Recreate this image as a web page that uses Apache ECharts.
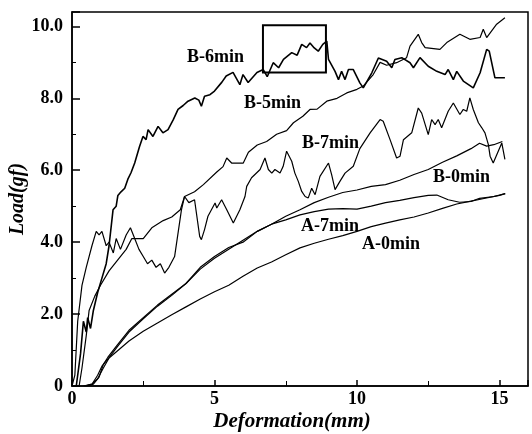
<!DOCTYPE html>
<html>
<head>
<meta charset="utf-8">
<script src="https://cdn.jsdelivr.net/npm/echarts@6/dist/echarts.min.js"></script>
<style>
html,body{margin:0;padding:0;background:#fff;}
#chart{width:532px;height:434px;}
</style>
</head>
<body>
<div id="chart"></div>
<script>
// ---- data (x: Deformation mm, y: Load gf) ----
var xTicks = [0, 5, 10, 15];
var yTicks = [0, 2, 4, 6, 8, 10];

var b6min = [[0.15,0],[0.3,0.9],[0.4,1.8],[0.5,1.5],[0.55,1.9],[0.65,1.6],[0.75,2.1],[0.9,2.6],[1.05,3.0],[1.2,3.4],[1.3,3.9],[1.44,4.9],[1.55,5.0],[1.61,5.3],[1.72,5.4],[1.85,5.5],[1.96,5.75],[2.07,5.93],[2.2,6.2],[2.37,6.66],[2.49,6.94],[2.6,6.85],[2.67,7.13],[2.84,6.94],[3.02,7.22],[3.19,7.04],[3.37,7.13],[3.55,7.4],[3.72,7.69],[3.9,7.8],[4.07,7.92],[4.31,8.01],[4.45,7.95],[4.54,7.78],[4.65,8.06],[4.84,8.1],[5.0,8.2],[5.26,8.45],[5.41,8.62],[5.65,8.72],[5.89,8.38],[6.0,8.66],[6.18,8.44],[6.49,8.72],[6.71,8.8],[6.85,8.6],[7.06,8.99],[7.25,8.85],[7.42,9.08],[7.71,9.27],[7.9,9.2],[8.06,9.5],[8.23,9.41],[8.35,9.54],[8.5,9.4],[8.64,9.31],[8.8,9.5],[8.94,9.59],[9.0,9.08],[9.23,8.75],[9.35,8.52],[9.46,8.75],[9.58,8.52],[9.7,8.8],[9.87,8.8],[10.1,8.43],[10.22,8.29],[10.52,8.71],[10.75,9.12],[11.04,9.03],[11.22,8.85],[11.33,9.08],[11.57,9.13],[11.86,8.99],[11.98,8.85],[12.21,9.13],[12.5,8.89],[12.8,8.75],[13.09,8.66],[13.2,8.8],[13.38,8.52],[13.5,8.75],[13.73,8.48],[14.08,8.29],[14.32,8.71],[14.55,9.36],[14.64,9.31],[14.84,8.57],[15.19,8.57]];

var b5min = [[0.25,0],[0.35,0.5],[0.5,1.4],[0.6,2.1],[0.8,2.5],[1.0,2.8],[1.3,3.2],[1.6,3.5],[1.9,3.8],[2.1,4.1],[2.5,4.1],[2.8,4.4],[3.2,4.6],[3.5,4.7],[3.8,4.9],[3.95,5.27],[4.3,5.4],[4.61,5.6],[5.08,5.95],[5.3,6.1],[5.43,6.34],[5.6,6.2],[6.01,6.2],[6.19,6.5],[6.5,6.7],[6.83,6.8],[7.18,7.0],[7.53,7.1],[7.77,7.32],[8.1,7.5],[8.35,7.69],[8.6,7.7],[8.94,7.92],[9.3,8.0],[9.64,8.15],[10.0,8.25],[10.22,8.34],[10.57,8.66],[10.81,9.0],[11.04,8.92],[11.39,8.99],[11.74,9.13],[11.86,9.45],[12.15,9.78],[12.27,9.55],[12.39,9.41],[12.91,9.36],[13.15,9.55],[13.61,9.78],[13.96,9.64],[14.32,9.69],[14.43,9.92],[14.55,9.69],[14.9,10.06],[15.19,10.24]];

var b7min = [[0.0,0],[0.1,0.3],[0.2,1.8],[0.35,2.8],[0.5,3.3],[0.7,3.9],[0.85,4.3],[0.95,4.2],[1.05,4.3],[1.2,3.9],[1.3,4.0],[1.45,3.7],[1.55,4.1],[1.7,3.8],[1.9,4.2],[2.05,4.4],[2.2,4.1],[2.35,3.8],[2.5,3.6],[2.65,3.4],[2.8,3.5],[2.95,3.3],[3.1,3.4],[3.25,3.14],[3.4,3.3],[3.6,3.6],[3.84,4.9],[3.95,5.27],[4.1,5.1],[4.3,5.18],[4.48,4.16],[4.54,4.07],[4.65,4.35],[4.77,4.72],[5.02,5.09],[5.08,4.95],[5.25,5.18],[5.43,4.9],[5.66,4.53],[5.89,4.9],[6.07,5.27],[6.13,5.55],[6.3,5.79],[6.6,6.02],[6.77,6.34],[6.89,6.02],[7.01,5.92],[7.12,6.02],[7.3,5.92],[7.41,6.11],[7.53,6.53],[7.71,6.25],[7.82,5.92],[7.94,5.69],[8.06,5.41],[8.18,5.27],[8.29,5.23],[8.41,5.5],[8.53,5.32],[8.7,5.83],[9.0,6.2],[9.11,5.88],[9.23,5.46],[9.4,5.69],[9.58,5.92],[9.87,6.11],[10.1,6.6],[10.46,7.04],[10.81,7.41],[10.92,7.36],[11.16,6.85],[11.39,6.34],[11.51,6.39],[11.63,6.85],[11.92,7.04],[12.15,7.73],[12.27,7.59],[12.5,6.99],[12.62,7.41],[12.74,7.27],[12.85,7.41],[12.97,7.18],[13.2,7.64],[13.38,7.87],[13.61,7.55],[13.73,7.69],[13.85,7.64],[13.96,8.01],[14.08,7.69],[14.26,7.32],[14.38,7.18],[14.49,7.04],[14.61,6.71],[14.67,6.39],[14.78,6.2],[15.08,6.76],[15.19,6.3]];

var b0min = [[0.4,0],[0.7,0.05],[0.9,0.3],[1.05,0.55],[1.26,0.75],[1.6,1.1],[2.0,1.5],[2.5,1.87],[3.0,2.22],[3.5,2.52],[4.0,2.85],[4.5,3.3],[5.0,3.6],[5.5,3.85],[6.0,4.0],[6.5,4.3],[7.0,4.5],[7.5,4.72],[8.0,4.9],[8.5,5.1],[9.0,5.25],[9.5,5.38],[10.0,5.45],[10.5,5.55],[11.0,5.6],[11.5,5.72],[12.0,5.88],[12.5,6.02],[13.0,6.22],[13.5,6.4],[14.0,6.6],[14.3,6.75],[14.55,6.67],[14.8,6.71],[15.1,6.8]];

var a7min = [[0.5,0],[0.75,0.05],[0.95,0.25],[1.1,0.6],[1.26,0.8],[1.6,1.15],[2.0,1.55],[2.5,1.9],[3.0,2.25],[3.5,2.55],[4.0,2.85],[4.5,3.25],[5.0,3.55],[5.5,3.8],[6.0,4.05],[6.5,4.3],[7.0,4.5],[7.5,4.62],[8.0,4.76],[8.5,4.85],[9.0,4.92],[9.5,4.93],[10.0,4.92],[10.5,5.0],[11.0,5.1],[11.5,5.16],[12.0,5.24],[12.5,5.3],[12.8,5.31],[13.2,5.18],[13.6,5.11],[14.0,5.13],[14.3,5.22],[14.8,5.27],[15.2,5.35]];

var a0min = [[0.45,0],[0.7,0.05],[0.9,0.2],[1.1,0.5],[1.3,0.78],[1.6,0.98],[2.0,1.25],[2.5,1.52],[3.0,1.75],[3.5,1.98],[4.0,2.2],[4.5,2.42],[5.0,2.62],[5.5,2.8],[6.0,3.05],[6.5,3.28],[7.0,3.45],[7.5,3.65],[8.0,3.84],[8.5,3.97],[9.0,4.08],[9.5,4.18],[10.0,4.3],[10.5,4.43],[11.0,4.53],[11.5,4.62],[12.0,4.7],[12.5,4.81],[13.0,4.94],[13.5,5.06],[14.0,5.14],[14.5,5.22],[15.0,5.3],[15.2,5.35]];

// highlighted region on B-6min (x from, x to, y from, y to)
var boxRange = [6.7, 8.91, 8.72, 10.03];

var seriesNames = ['B-6min','B-5min','B-7min','B-0min','A-7min','A-0min'];
var seriesData = [b6min, b5min, b7min, b0min, a7min, a0min];

var SERIF = '"Liberation Serif","DejaVu Serif",serif';

var chart = echarts.init(document.getElementById('chart'), null, {renderer:'canvas'});

var series = seriesData.map(function(d, i){
  var s = {
    name: seriesNames[i], type:'line', data:d, showSymbol:false, symbol:'none',
    lineStyle:{color:'#000', width: i===0 ? 1.6 : 1.2},
    animation:false, z: 3
  };
  if (i === 0) {
    s.markArea = {
      silent:true,
      itemStyle:{color:'rgba(0,0,0,0)', borderColor:'#000', borderWidth:2},
      data:[[{coord:[boxRange[0], boxRange[3]]},{coord:[boxRange[1], boxRange[2]]}]]
    };
  }
  return s;
});

var labelStyle = {fontFamily:SERIF, fontWeight:'bold', fontSize:18, fill:'#000'};
function lbl(text, x, y){
  return {type:'text', left:x, top:y, style:Object.assign({text:text}, labelStyle), z:10};
}

chart.setOption({
  animation:false,
  backgroundColor:'#fff',
  grid:{left:72, right:4, top:12, bottom:48, outerBoundsMode:'none', containLabel:false,
        show:true, borderColor:'#000', borderWidth:1.5, backgroundColor:'transparent'},
  xAxis:{
    type:'value', min:0, max:16, interval:5,
    axisLine:{show:true, lineStyle:{color:'#000', width:1.5}},
    axisTick:{show:true, inside:true, length:6, lineStyle:{color:'#000', width:1.5}},
    minorTick:{show:true, splitNumber:2, length:5, lineStyle:{color:'#000', width:1}},
    splitLine:{show:false},
    axisLabel:{
      margin:4, color:'#000', fontFamily:SERIF, fontWeight:'bold', fontSize:18,
      formatter:function(v){ return xTicks.indexOf(v) >= 0 ? String(v) : ''; }
    },
    name:'Deformation(mm)', nameLocation:'middle', nameGap:25, nameMoveOverlap:false,
    nameTextStyle:{color:'#000', fontFamily:SERIF, fontWeight:'bold', fontStyle:'italic', fontSize:21,
                   padding:[0, 16, 0, 0]}
  },
  yAxis:{
    type:'value', min:0, max:10.4, interval:2,
    axisLine:{show:true, lineStyle:{color:'#000', width:1.5}},
    axisTick:{show:true, inside:true, length:8, lineStyle:{color:'#000', width:1.5}},
    minorTick:{show:true, splitNumber:2, length:4, lineStyle:{color:'#000', width:1}},
    splitLine:{show:false},
    axisLabel:{
      margin:9, color:'#000', fontFamily:SERIF, fontWeight:'bold', fontSize:18,
      formatter:function(v){ return yTicks.indexOf(v) >= 0 ? (v === 0 ? '0' : v.toFixed(1)) : ''; }
    },
    name:'Load(gf)', nameLocation:'middle', nameGap:44, nameMoveOverlap:false,
    nameTextStyle:{color:'#000', fontFamily:SERIF, fontWeight:'bold', fontStyle:'italic', fontSize:20}
  },
  series: series,
  graphic:[
    lbl('B-6min', 187, 48),
    lbl('B-5min', 244, 94),
    lbl('B-7min', 302, 134),
    lbl('B-0min', 433, 168),
    lbl('A-7min', 301, 217),
    lbl('A-0min', 362, 235)
  ]
});
</script>
</body>
</html>
